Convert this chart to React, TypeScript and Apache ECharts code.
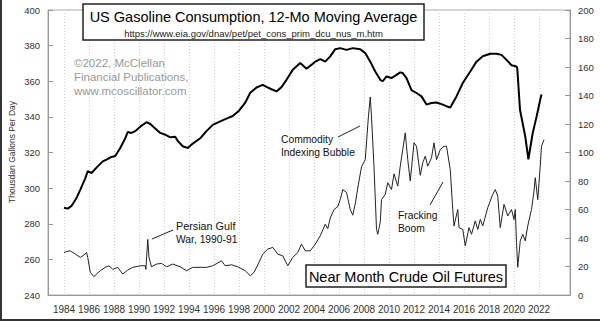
import React, { useEffect, useRef } from 'react';
import * as echarts from 'echarts';

const FONT = "'Liberation Sans', Arial, Helvetica, sans-serif";

const yearTicks = [1984, 1986, 1988, 1990, 1992, 1994, 1996, 1998, 2000, 2002, 2004, 2006, 2008, 2010, 2012, 2014, 2016, 2018, 2020, 2022];

// US gasoline consumption, 12-month moving average (thousand gallons per day) — left axis
const gasolineMA: [number, number][] = [
  [1984.0, 289], [1984.3, 288.5], [1984.6, 290], [1985.0, 294.5], [1985.3, 299], [1985.7, 305.5],
  [1985.9, 309.5], [1986.2, 308.5], [1986.6, 311.5], [1987.1, 315], [1987.4, 316], [1987.8, 317.5],
  [1988.1, 318], [1988.5, 322.5], [1988.9, 328], [1989.1, 331.5], [1989.4, 331], [1989.7, 332],
  [1990.1, 334.5], [1990.6, 337], [1990.9, 336], [1991.3, 333.5], [1991.7, 331], [1992.1, 330],
  [1992.5, 328.5], [1992.9, 328.8], [1993.1, 326.5], [1993.5, 323.5], [1993.9, 322.5], [1994.3, 325],
  [1994.9, 328], [1995.4, 332], [1995.9, 335.5], [1996.5, 337.5], [1997.0, 339], [1997.5, 340.5],
  [1998.0, 343.5], [1998.5, 348], [1998.9, 353.5], [1999.4, 356.5], [1999.9, 358], [2000.2, 356.8],
  [2000.6, 355.5], [2001.0, 354.3], [2001.4, 356.7], [2001.8, 360.8], [2002.3, 366.4], [2002.9, 370.2],
  [2003.4, 367], [2004.1, 371], [2004.5, 372.4], [2004.9, 371], [2005.3, 374], [2005.7, 378],
  [2006.1, 378.6], [2006.6, 377.6], [2007.1, 378.6], [2007.7, 378], [2008.1, 375.8], [2008.5, 371],
  [2008.9, 365.5], [2009.3, 360.8], [2009.5, 360], [2009.8, 362.7], [2010.2, 361.8], [2010.6, 363.6],
  [2010.9, 365], [2011.1, 364.6], [2011.4, 361.8], [2011.8, 355], [2012.2, 353.4], [2012.6, 351.5],
  [2013.0, 346.9], [2013.4, 347.8], [2013.8, 348.1], [2014.1, 347.4], [2014.6, 346], [2014.9, 345.3],
  [2015.4, 351.5], [2015.9, 359], [2016.5, 365.5], [2017.0, 371], [2017.5, 374], [2018.1, 375.4],
  [2018.6, 375.4], [2019.0, 374.8], [2019.4, 372], [2019.8, 369], [2020.2, 368.3], [2020.26, 367.4],
  [2020.48, 344], [2020.9, 329], [2021.15, 316.2], [2021.5, 331], [2021.8, 340], [2022.1, 349.7],
  [2022.2, 352.5],
];

// Near month crude oil futures ($/bbl) — right axis
const crudeOil: [number, number][] = [
  [1984.0, 29.8], [1984.2, 30.5], [1984.5, 31], [1984.9, 28.7], [1985.3, 26.4], [1985.5, 27.5],
  [1985.8, 29.8], [1985.9, 26.4], [1986.1, 15.9], [1986.4, 12.8], [1986.6, 14.7], [1986.9, 17],
  [1987.3, 19.4], [1987.6, 20.5], [1987.9, 18], [1988.3, 19.4], [1988.7, 14.7], [1989.1, 17.5],
  [1989.5, 19.4], [1990.1, 20.5], [1990.5, 20.5], [1990.55, 18], [1990.7, 39], [1990.8, 26.4],
  [1991.0, 19.8], [1991.4, 21.7], [1991.8, 22.2], [1992.2, 19.8], [1992.7, 21.7], [1993.3, 19.8],
  [1993.8, 17], [1994.3, 19.4], [1994.9, 19.4], [1995.4, 19.4], [1995.9, 20.5], [1996.6, 24],
  [1996.9, 20.5], [1997.4, 21.2], [1997.9, 19.8], [1998.5, 17], [1998.9, 13.5], [1999.2, 15.9],
  [1999.6, 22.9], [1999.9, 28.7], [2000.3, 32.2], [2000.7, 33.4], [2001.1, 28.7], [2001.5, 27.5],
  [2001.9, 20.5], [2002.3, 26.4], [2002.7, 29.8], [2003.0, 35.7], [2003.3, 31], [2003.7, 31],
  [2004.1, 35.7], [2004.5, 41.5], [2004.9, 49.7], [2005.1, 46.5], [2005.3, 54], [2005.6, 60],
  [2005.9, 62], [2006.1, 67], [2006.3, 74], [2006.6, 72], [2006.9, 60], [2007.1, 56],
  [2007.3, 64], [2007.5, 75], [2007.8, 90], [2008.1, 95], [2008.35, 125], [2008.5, 139],
  [2008.6, 125], [2008.8, 90], [2009.0, 46], [2009.1, 42.6], [2009.3, 51], [2009.4, 67],
  [2009.7, 70.6], [2009.9, 78.8], [2010.2, 74], [2010.4, 85], [2010.7, 76.4], [2010.9, 90.4],
  [2011.1, 102], [2011.3, 113.8], [2011.5, 95], [2011.7, 80], [2012.0, 106.8], [2012.2, 104.4],
  [2012.5, 84], [2012.7, 92.8], [2012.9, 97.4], [2013.1, 90.4], [2013.4, 96.3], [2013.6, 106.8],
  [2013.8, 95], [2014.1, 102], [2014.4, 104.4], [2014.6, 104.4], [2014.9, 88], [2015.1, 60],
  [2015.2, 48.5], [2015.5, 60], [2015.6, 47.3], [2015.9, 46], [2016.1, 34.5], [2016.4, 47.3],
  [2016.6, 42.6], [2016.9, 52], [2017.1, 46], [2017.3, 53], [2017.5, 48.5], [2017.9, 61.3],
  [2018.3, 70.6], [2018.5, 74], [2018.7, 69.4], [2018.9, 47.3], [2019.2, 63.6], [2019.5, 55.5],
  [2019.8, 60], [2020.0, 53], [2020.1, 60], [2020.2, 36.8], [2020.3, 19.5], [2020.5, 38],
  [2020.7, 42.6], [2020.9, 38], [2021.1, 48.5], [2021.4, 60], [2021.6, 72.9], [2021.7, 82.3],
  [2021.9, 67], [2022.1, 90.4], [2022.2, 104.4], [2022.4, 109],
];

const titleText = 'US Gasoline Consumption, 12-Mo Moving Average';
const sourceText = 'https://www.eia.gov/dnav/pet/pet_cons_prim_dcu_nus_m.htm';
const copyrightLines = ['©2022, McClellan', 'Financial Publications,', 'www.mcoscillator.com'];
const legendText = 'Near Month Crude Oil Futures';
const yAxisTitle = 'Thousdan Gallons Per Day';

export default function App() {
  const ref = useRef<HTMLDivElement>(null);
  useEffect(() => {
    document.body.style.margin = '0';
    const chart = echarts.init(ref.current!, null, { renderer: 'svg' });
    const txt = (x: number, y: number, text: string, size: number, extra: any = {}) => ({
      type: 'text', x, y, z: 100,
      style: { text, fontSize: size, fontFamily: FONT, fill: '#111', textAlign: 'left', textVerticalAlign: 'middle', ...extra },
    });
    chart.setOption({
      animation: false,
      backgroundColor: '#fff',
      textStyle: { fontFamily: FONT },
      grid: { left: 48, right: 30, top: 10, bottom: 26, show: true, borderColor: '#aaa', borderWidth: 1 },
      xAxis: {
        type: 'value', min: 1982.72, max: 2024.48,
        axisLine: { show: true, lineStyle: { color: '#999' } },
        axisTick: { show: false, customValues: yearTicks },
        axisLabel: { customValues: yearTicks, fontSize: 10, color: '#333', margin: 9, formatter: (v: number) => String(v) },
        splitLine: { show: true, lineStyle: { color: '#cfcfcf', type: [1, 2] } },
      },
      yAxis: [
        {
          type: 'value', min: 240, max: 400, interval: 20, position: 'left',
          axisLine: { show: true, lineStyle: { color: '#999' } },
          axisTick: { show: true, inside: true, length: 5, lineStyle: { color: '#999' } },
          axisLabel: { fontSize: 9.5, color: '#333', margin: 8 },
          splitLine: { show: false },
        },
        {
          type: 'value', min: 0, max: 200, interval: 20, position: 'right',
          axisLine: { show: true, lineStyle: { color: '#999' } },
          axisTick: { show: true, inside: true, length: 5, lineStyle: { color: '#999' } },
          axisLabel: { fontSize: 9.5, color: '#333', margin: 8 },
          splitLine: { show: false },
        },
      ],
      series: [
        {
          type: 'line', name: 'Gasoline', data: gasolineMA, yAxisIndex: 0, showSymbol: false, z: 4,
          lineStyle: { color: '#000', width: 2 },
        },
        {
          type: 'line', name: 'Crude', data: crudeOil, yAxisIndex: 1, showSymbol: false, z: 3,
          lineStyle: { color: '#222', width: 1 },
        },
      ],
      graphic: [
        { type: 'line', z: 100, shape: { x1: 1, y1: 0, x2: 1, y2: 321 }, style: { stroke: '#333', lineWidth: 2 } },
        { type: 'line', z: 100, shape: { x1: 0, y1: 320, x2: 600, y2: 320 }, style: { stroke: '#333', lineWidth: 2 } },
        { type: 'rect', z: 90, shape: { x: 83, y: 4, width: 341, height: 36 }, style: { fill: '#fff', stroke: '#222', lineWidth: 1.5 } },
        txt(253.5, 17, titleText, 14.5, { textAlign: 'center', fill: '#000' }),
        txt(253.5, 33, sourceText, 9.5, { textAlign: 'center', fill: '#222' }),
        txt(74, 63, copyrightLines[0], 11.5, { fill: '#999' }),
        txt(74, 77, copyrightLines[1], 11.5, { fill: '#999' }),
        txt(74, 91, copyrightLines[2], 11.5, { fill: '#999' }),
        { type: 'rect', z: 90, shape: { x: 306, y: 265, width: 200, height: 22 }, style: { fill: '#fff', stroke: '#222', lineWidth: 1.5 } },
        txt(406, 276.5, legendText, 14.5, { textAlign: 'center', fill: '#000' }),
        {
          type: 'text', x: 12, y: 152, rotation: Math.PI / 2, z: 100,
          style: { text: yAxisTitle, fontSize: 8.5, fontFamily: FONT, fill: '#333', textAlign: 'center', textVerticalAlign: 'middle' },
        },
        txt(281, 139.5, 'Commodity', 10.3),
        txt(281, 152.5, 'Indexing Bubble', 10.3),
        { type: 'line', z: 100, shape: { x1: 338, y1: 137, x2: 360, y2: 126 }, style: { stroke: '#222', lineWidth: 1 } },
        txt(398, 215.5, 'Fracking', 10.3),
        txt(398, 228, 'Boom', 10.3),
        { type: 'line', z: 100, shape: { x1: 430, y1: 205, x2: 443, y2: 182 }, style: { stroke: '#222', lineWidth: 1 } },
        txt(176, 226, 'Persian Gulf', 10.8),
        txt(176, 239.5, 'War, 1990-91', 10.3),
        { type: 'line', z: 100, shape: { x1: 152, y1: 239, x2: 173, y2: 230 }, style: { stroke: '#222', lineWidth: 1 } },
      ],
    });
    return () => chart.dispose();
  }, []);
  return <div ref={ref} style={{ width: 600, height: 321 }} />;
}
